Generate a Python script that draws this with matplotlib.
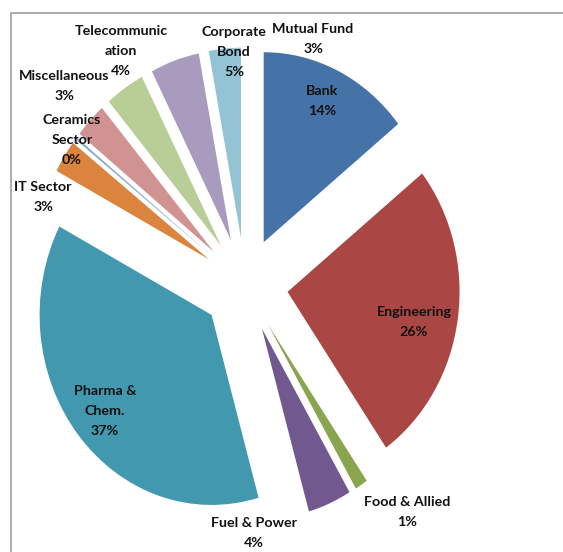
import matplotlib
matplotlib.use("Agg")
import matplotlib.pyplot as plt
from matplotlib.patches import Rectangle

# ============= Data =============
sectors = ["Bank", "Engineering", "Food & Allied", "Fuel & Power", "Pharma & Chem.",
           "IT Sector", "Ceramics Sector", "Miscellaneous", "Telecommunication",
           "Corporate Bond", "Mutual Fund"]
shares = [14.3, 26.0, 1.2, 4.1, 37.1, 2.8, 0.2, 3.0, 3.7, 4.6, 3.0]
# label text as it is wrapped in the chart
label_text = ["Bank", "Engineering", "Food & Allied", "Fuel & Power", "Pharma &\nChem.",
              "IT Sector", "Ceramics\nSector", "Miscellaneous", "Telecommunic\nation",
              "Corporate\nBond", "Mutual Fund"]
colors = ["#4572A7", "#AA4643", "#89A54E", "#71588F", "#4198AF", "#DB843D",
          "#93A9CF", "#D19392", "#B9CD96", "#A99BBD", "#93C4D6"]

# label centres in pixels (x, y from top)
label_pos = [(322, 101), (414, 322), (407, 512), (254, 533), (105, 411),
             (43, 197), (72, 140), (64, 86), (121, 51), (234, 52), (313, 39)]

W, H = 563, 552
cx, cy = 245, 285      # pie centre (px)
rx, ry = 172, 190      # pie is a bit squashed horizontally

fig = plt.figure(figsize=(W / 100, H / 100), dpi=100)
ax = fig.add_axes([0, 0, 1, 1])

ax.pie(shares, explode=[0.25] * len(shares), startangle=90, counterclock=False,
       colors=colors, radius=1, center=(0, 0),
       wedgeprops=dict(linewidth=0, antialiased=True))
ax.set_aspect('auto')
ax.set_xlim(-cx / rx, (W - cx) / rx)
ax.set_ylim(-(H - cy) / ry, cy / ry)
ax.axis('off')

# labels
for txt, s, (px, py) in zip(label_text, shares, label_pos):
    fig.text(px / W, 1 - py / H, txt + "\n" + "%d%%" % int(s + 0.5),
             ha='center', va='center', fontsize=10.3, fontweight='bold',
             family='Lato', color='#111111', linespacing=1.8)

# chart frame (right / bottom edges fall outside the crop)
fig.patches.append(Rectangle((11 / W, -0.1), 1.2, 1 - 13 / H + 0.1,
                             transform=fig.transFigure, fill=False,
                             edgecolor='#A6A6A6', linewidth=1.3))

fig.savefig("out.png", dpi=100)
